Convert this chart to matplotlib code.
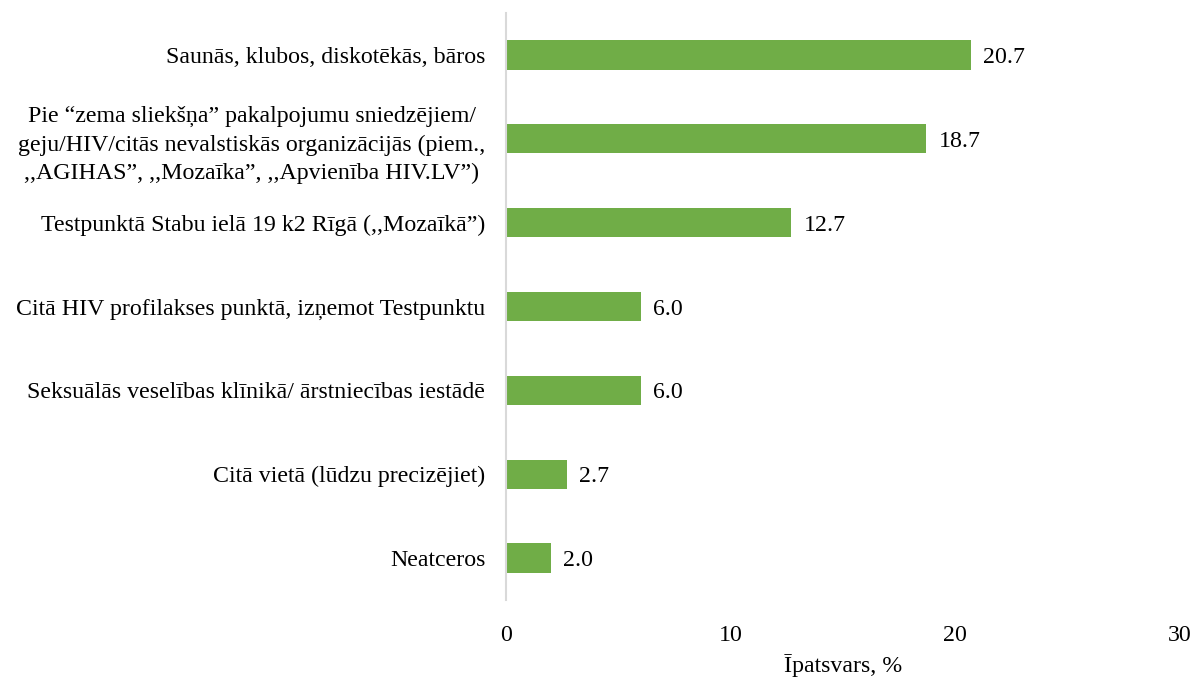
import matplotlib.pyplot as plt

# Dati
categories = [
    "Saunās, klubos, diskotēkās, bāros",
    "Pie “zema sliekšņa” pakalpojumu sniedzējiem/\ngeju/HIV/citās nevalstiskās organizācijās (piem.,\n,,AGIHAS”, ,,Mozaīka”, ,,Apvienība HIV.LV”)",
    "Testpunktā Stabu ielā 19 k2 Rīgā (,,Mozaīkā”)",
    "Citā HIV profilakses punktā, izņemot Testpunktu",
    "Seksuālās veselības klīnikā/ ārstniecības iestādē",
    "Citā vietā (lūdzu precizējiet)",
    "Neatceros",
]
values = [20.7, 18.7, 12.7, 6.0, 6.0, 2.7, 2.0]
xticks = [0, 10, 20, 30]

plt.rcParams['font.family'] = ['Liberation Serif', 'DejaVu Serif']
plt.rcParams['font.size'] = 17.2

fig = plt.figure(figsize=(11.94, 6.8), dpi=100)
ax = fig.add_axes([0.4238, 0.1176, 0.5645, 0.8633])

y = list(range(len(categories)))
bars = ax.barh(y, values, height=0.35, color='#70AD47')
for b, v in zip(bars, values):
    ax.text(v + 0.55, b.get_y() + b.get_height() / 2, f"{v:.1f}",
            va='center_baseline', ha='left', fontsize=17.2)

ax.set_yticks(y)
ax.set_yticklabels(categories, ha='right', multialignment='center',
                   linespacing=1.45)
ax.set_ylim(len(categories) - 0.5, -0.5)
ax.set_xlim(0, 30)
ax.set_xticks(xticks)
ax.tick_params(axis='both', length=0)
ax.tick_params(axis='y', pad=15)
ax.tick_params(axis='x', pad=18)

for s in ['top', 'right', 'bottom']:
    ax.spines[s].set_visible(False)
ax.spines['left'].set_color('#D9D9D9')
ax.spines['left'].set_linewidth(1.5)

ax.set_xlabel("Īpatsvars, %", fontsize=17.2, labelpad=6)

fig.savefig("out.png", dpi=100)
